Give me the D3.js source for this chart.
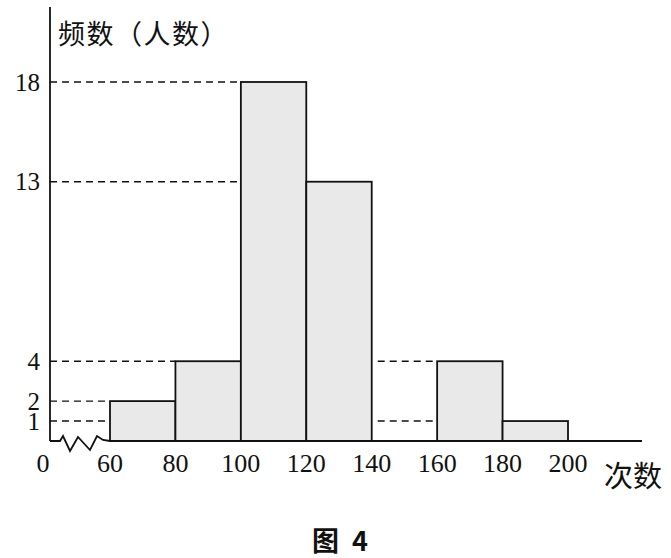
<!DOCTYPE html>
<html><head><meta charset="utf-8">
<script src="https://cdn.jsdelivr.net/npm/d3@7"></script>
<style>body{margin:0;background:#fff}svg{display:block}</style>
</head><body>
<svg id="c" width="671" height="558"></svg>
<script>
const binStarts = [60, 80, 100, 120, 140, 160, 180];
const binWidth = 20;
const counts = [2, 4, 18, 13, 0, 4, 1];
const yTicks = [1, 2, 4, 13, 18];
const xTicks = [60, 80, 100, 120, 140, 160, 180, 200];
const yLabel = "频数（人数）";
const xLabel = "次数";
const captionWord = "图";
const captionNum = "4";

const svg = d3.select("#c");
const x0 = 50, yBase = 441;
const x = d3.scaleLinear().domain([60, 200]).range([110, 568]);
const y = d3.scaleLinear().domain([0, 18]).range([yBase, 82]);
const serif = "'Liberation Serif','DejaVu Serif',serif";
const cjk = "'Noto Sans CJK SC',sans-serif";

const bins = binStarts.map((s, i) => ({s, e: s + binWidth, c: counts[i]}));

const dashG = svg.append("g").attr("stroke", "#111").attr("stroke-width", 1.4).attr("stroke-dasharray", "7,5");
yTicks.forEach(v => {
  const b = bins.find(d => d.c >= v);
  dashG.append("line").attr("x1", x0).attr("x2", x(b.s)).attr("y1", y(v)).attr("y2", y(v));
});
const gapIdx = bins.findIndex(d => d.c === 0);
bins.slice(gapIdx + 1).forEach(b => {
  dashG.append("line").attr("x1", x(bins[gapIdx].s) + 6).attr("x2", x(b.s)).attr("y1", y(b.c)).attr("y2", y(b.c));
});

svg.append("g").selectAll("rect").data(bins.filter(d => d.c > 0)).join("rect")
  .attr("x", d => x(d.s)).attr("width", d => x(d.e) - x(d.s))
  .attr("y", d => y(d.c)).attr("height", d => yBase - y(d.c))
  .attr("fill", "#e9e9e9").attr("stroke", "#111").attr("stroke-width", 1.8);

svg.append("line").attr("x1", x0).attr("x2", x0).attr("y1", 7).attr("y2", yBase)
  .attr("stroke", "#111").attr("stroke-width", 1.8);
const brk = [[x0, yBase], [60, yBase], [63, 436], [70, 451], [78, 437], [90, 450], [97, 436], [103, 440], [x(60), yBase], [642, yBase]];
svg.append("path").attr("d", d3.line()(brk)).attr("fill", "none").attr("stroke", "#111").attr("stroke-width", 1.8);

svg.append("g").selectAll("text").data(yTicks).join("text")
  .attr("x", 40).attr("y", d => y(d)).attr("dy", "0.35em").attr("text-anchor", "end")
  .attr("font-family", serif).attr("font-size", 25).attr("fill", "#111").text(d => d);

svg.append("text").attr("x", 43).attr("y", 472).attr("text-anchor", "middle")
  .attr("font-family", serif).attr("font-size", 26).attr("fill", "#111").text("0");
svg.append("g").selectAll("text").data(xTicks).join("text")
  .attr("x", d => x(d)).attr("y", 472).attr("text-anchor", "middle")
  .attr("font-family", serif).attr("font-size", 26).attr("fill", "#111").text(d => d);

svg.append("text").attr("x", 58).attr("y", 44).attr("font-family", cjk).attr("font-size", 27)
  .attr("letter-spacing", 1.5).attr("fill", "#111").text(yLabel);
svg.append("text").attr("x", 604).attr("y", 487).attr("font-family", cjk).attr("font-size", 29)
  .attr("fill", "#111").text(xLabel);
svg.append("text").attr("x", 312).attr("y", 551).attr("font-family", cjk)
  .attr("font-weight", "bold").attr("font-size", 27).attr("fill", "#111").text(captionWord);
svg.append("text").attr("x", 352).attr("y", 551).attr("font-family", cjk)
  .attr("font-weight", "bold").attr("font-size", 27).attr("fill", "#111").text(captionNum);
</script>
</body></html>
